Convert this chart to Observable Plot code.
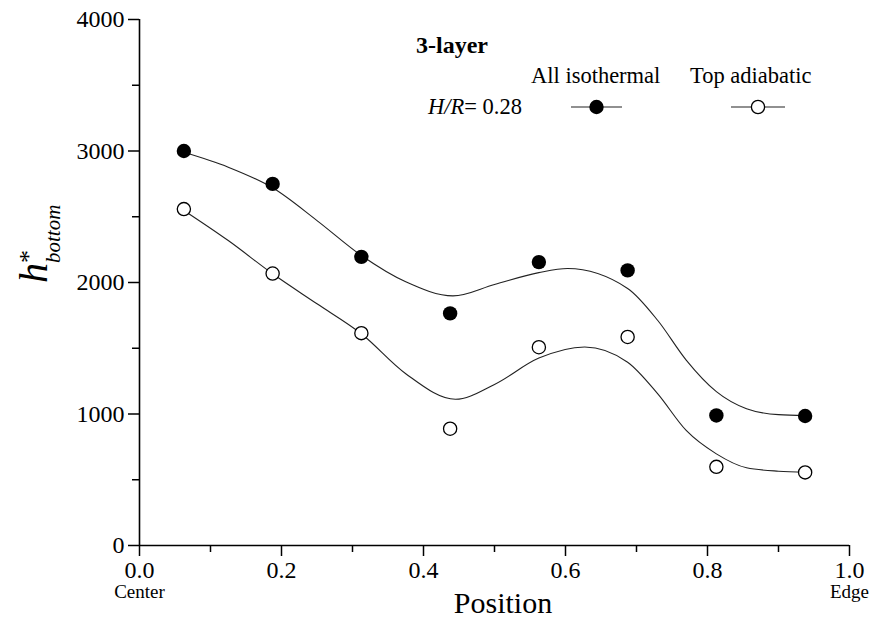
<!DOCTYPE html>
<html><head><meta charset="utf-8">
<script src="https://cdn.jsdelivr.net/npm/d3@7"></script>
<script src="https://cdn.jsdelivr.net/npm/@observablehq/plot@0.6"></script>
<style>body{margin:0;background:#fff} svg{display:block}</style>
</head><body><div id="chart"></div>
<script>
// ---- data ----
const positions = [0.0625, 0.1875, 0.3125, 0.4375, 0.5625, 0.6875, 0.8125, 0.9375];
const allIsothermal = [3000, 2750, 2195, 1765, 2155, 2092, 989, 985];
const topAdiabatic = [2558, 2068, 1615, 888, 1508, 1586, 598, 556];

// smoothed fit curves (sampled from the drawn curves)
const fitIsoX = [0.0625, 0.125, 0.1875, 0.25, 0.3125, 0.375, 0.4415, 0.5, 0.5625, 0.603, 0.6875, 0.73, 0.77, 0.8125, 0.855, 0.9, 0.9375];
const fitIsoY = [2990, 2877, 2720, 2471, 2205, 2005, 1898, 1985, 2075, 2106, 1955, 1711, 1410, 1170, 1040, 995, 989];
const fitAdiX = [0.0625, 0.125, 0.1875, 0.25, 0.3125, 0.375, 0.445, 0.5, 0.5625, 0.627, 0.6875, 0.73, 0.77, 0.8125, 0.855, 0.9, 0.9375];
const fitAdiY = [2548, 2319, 2066, 1838, 1610, 1306, 1112, 1225, 1425, 1510, 1394, 1153, 875, 697, 591, 565, 558];

const seriesNames = ["All isothermal", "Top adiabatic"];
const yTicks = [0, 1000, 2000, 3000, 4000];
const yMinor = [500, 1500, 2500, 3500];
const xTicks = [0, 0.2, 0.4, 0.6, 0.8, 1.0];
const xMinor = [0.1, 0.3, 0.5, 0.7, 0.9];
const endLabels = [{x: 0, label: "Center"}, {x: 1, label: "Edge"}];
const xLabel = "Position";
const titleText = "3-layer";
const ratioLabel = {name: "H/R", value: "= 0.28"};

// ---- build tables ----
const isoPts = positions.map((x, i) => ({x, y: allIsothermal[i]}));
const adiPts = positions.map((x, i) => ({x, y: topAdiabatic[i]}));
const isoFit = fitIsoX.map((x, i) => ({x, y: fitIsoY[i]}));
const adiFit = fitAdiX.map((x, i) => ({x, y: fitAdiY[i]}));

const serif = "'Liberation Serif', 'Times New Roman', serif";

const chart = Plot.plot({
  width: 871,
  height: 620,
  marginLeft: 139,
  marginRight: 22,
  marginTop: 19,
  marginBottom: 75,
  style: {fontFamily: serif, background: "#fff", color: "#000"},
  x: {domain: [0, 1]},
  y: {domain: [0, 4000]},
  marks: [
    Plot.axisX({ticks: xTicks, tickSize: 11, tickPadding: 4, fontSize: 24, tickFormat: d3.format(".1f"), label: null, strokeWidth: 1.5}),
    Plot.axisX({ticks: xMinor, tickSize: 7, text: null, label: null, strokeWidth: 1.5}),
    Plot.axisY({ticks: yTicks, tickSize: 11, tickPadding: 4, fontSize: 24, tickFormat: d => String(d), label: null, strokeWidth: 1.5}),
    Plot.axisY({ticks: yMinor, tickSize: 7, text: null, label: null, strokeWidth: 1.5}),
    Plot.ruleY([0], {stroke: "#000", strokeWidth: 1.6}),
    Plot.ruleX([0], {stroke: "#000", strokeWidth: 1.6}),
    Plot.line(isoFit, {x: "x", y: "y", curve: "monotone-x", stroke: "#222", strokeWidth: 1.1}),
    Plot.line(adiFit, {x: "x", y: "y", curve: "monotone-x", stroke: "#222", strokeWidth: 1.1}),
    Plot.dot(isoPts, {x: "x", y: "y", r: 7.2, fill: "#000", stroke: "none"}),
    Plot.dot(adiPts, {x: "x", y: "y", r: 6.6, fill: "#fff", stroke: "#000", strokeWidth: 1.3}),
    Plot.text(endLabels, {x: "x", text: "label", frameAnchor: "bottom", dy: 52, fontSize: 19, fill: "#000"})
  ]
});

document.getElementById("chart").appendChild(chart);

const svg = d3.select(chart);
// x-axis title
svg.append("text").attr("x", 503).attr("y", 613).attr("text-anchor", "middle")
  .attr("font-family", serif).attr("font-size", 30).attr("fill", "#000").text(xLabel);

// y-axis label h*_bottom
const yl = svg.append("text")
  .attr("transform", "translate(47,283) rotate(-90)")
  .attr("text-anchor", "start")
  .attr("font-family", serif)
  .attr("fill", "#000");
yl.append("tspan").attr("font-style", "italic").attr("font-size", 40).text("h");
yl.append("tspan").attr("font-size", 26).attr("dy", -10).text("*");
yl.append("tspan").attr("font-style", "italic").attr("font-size", 21).attr("dx", -13).attr("dy", 23).text("bottom");

// legend
const lg = svg.append("g").attr("font-family", serif).attr("fill", "#000").attr("text-anchor", "start");
lg.append("text").attr("x", 416).attr("y", 53).attr("font-size", 24).attr("font-weight", "bold").text(titleText);
lg.append("text").attr("x", 531).attr("y", 83).attr("font-size", 22.5).text(seriesNames[0]);
lg.append("text").attr("x", 690).attr("y", 83).attr("font-size", 22.5).text(seriesNames[1]);
const hr = lg.append("text").attr("x", 428).attr("y", 114).attr("font-size", 22.5);
hr.append("tspan").attr("font-style", "italic").text(ratioLabel.name);
hr.append("tspan").text(ratioLabel.value);
// legend symbols
const sym = [{x1: 571, x2: 622, filled: true}, {x1: 731, x2: 785, filled: false}];
sym.forEach(s => {
  lg.append("line").attr("x1", s.x1).attr("x2", s.x2).attr("y1", 107).attr("y2", 107).attr("stroke", "#222").attr("stroke-width", 1.1);
  lg.append("circle").attr("cx", (s.x1 + s.x2) / 2).attr("cy", 107).attr("r", s.filled ? 7.2 : 6.6)
    .attr("fill", s.filled ? "#000" : "#fff").attr("stroke", s.filled ? "none" : "#000").attr("stroke-width", 1.3);
});
</script>
</body></html>
